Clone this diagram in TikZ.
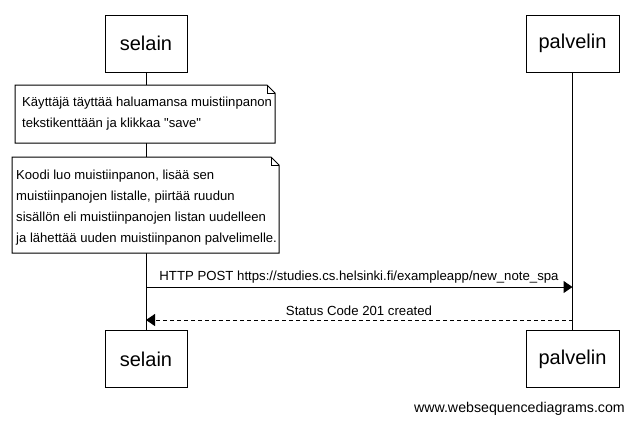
\documentclass[tikz,border=0pt]{standalone}
\usepackage{fontspec}
\setmainfont{Liberation Sans}
\newfontfamily\plainfont{Liberation Sans}
\usetikzlibrary{arrows.meta}
\begin{document}
\begin{tikzpicture}[x=1pt,y=-1pt,
  actor/.style={draw,line width=1pt,minimum width=82pt,minimum height=57pt,inner sep=0pt,font=\fontsize{20}{22}\selectfont},
  lbl/.style={font=\fontsize{13.2}{15}\selectfont,inner sep=0pt},
  notetext/.style={font=\plainfont\fontsize{13.1}{21}\selectfont,align=left,anchor=north west,inner sep=0pt},
  msg/.style={line width=1pt,-{Triangle[length=9pt,width=12pt]}}]
\useasboundingbox (0,0) rectangle (634,424);
\node[actor] (s1) at (146,43.5) {selain};
\node[actor,minimum width=93pt] (p1) at (572.5,43.5) {palvelin};
\node[actor] (s2) at (146,359) {selain};
\node[actor,minimum width=93pt] (p2) at (572.5,359) {palvelin};
\draw[line width=1pt] (s1.south) -- (s2.north);
\draw[line width=1pt] (p1.south) -- (p2.north);
% note 1
\draw[fill=white,line width=1pt] (15,85) -- (267,85) -- (275,93) -- (275,143) -- (15,143) -- cycle;
\draw[line width=0.6pt] (267,85) -- (267,93) -- (275,93);
\node[notetext] (n1) at (22,97) {Käyttäjä täyttää haluamansa muistiinpanon\\tekstikenttään ja klikkaa "save"};
% note 2
\draw[fill=white,line width=1pt] (12,157) -- (271,157) -- (279,165) -- (279,253) -- (12,253) -- cycle;
\draw[line width=0.6pt] (271,157) -- (271,165) -- (279,165);
\node[notetext] (n2) at (16,170) {Koodi luo muistiinpanon, lisää sen\\muistiinpanojen listalle, piirtää ruudun\\sisällön eli muistiinpanojen listan uudelleen\\ja lähettää uuden muistiinpanon palvelimelle.};
% messages
\coordinate (a1s) at (s1.south |- 0,287);
\coordinate (a1e) at (p1.south |- 0,287);
\coordinate (a2s) at (p1.south |- 0,320);
\coordinate (a2e) at (s1.south |- 0,320);
\draw[msg] (a1s) -- (a1e);
\node[lbl] (l1) at (359,277) {HTTP POST https://studies.cs.helsinki.fi/exampleapp/new\_note\_spa};
\draw[msg,dashed,dash pattern=on 4pt off 3pt] (a2s) -- (a2e);
\node[lbl] (l2) at (359,311) {Status Code 201 created};
\node[font=\fontsize{14.2}{16}\selectfont,anchor=east,inner sep=0pt] (w) at (625,409) {www.websequencediagrams.com};
\end{tikzpicture}
\end{document}
